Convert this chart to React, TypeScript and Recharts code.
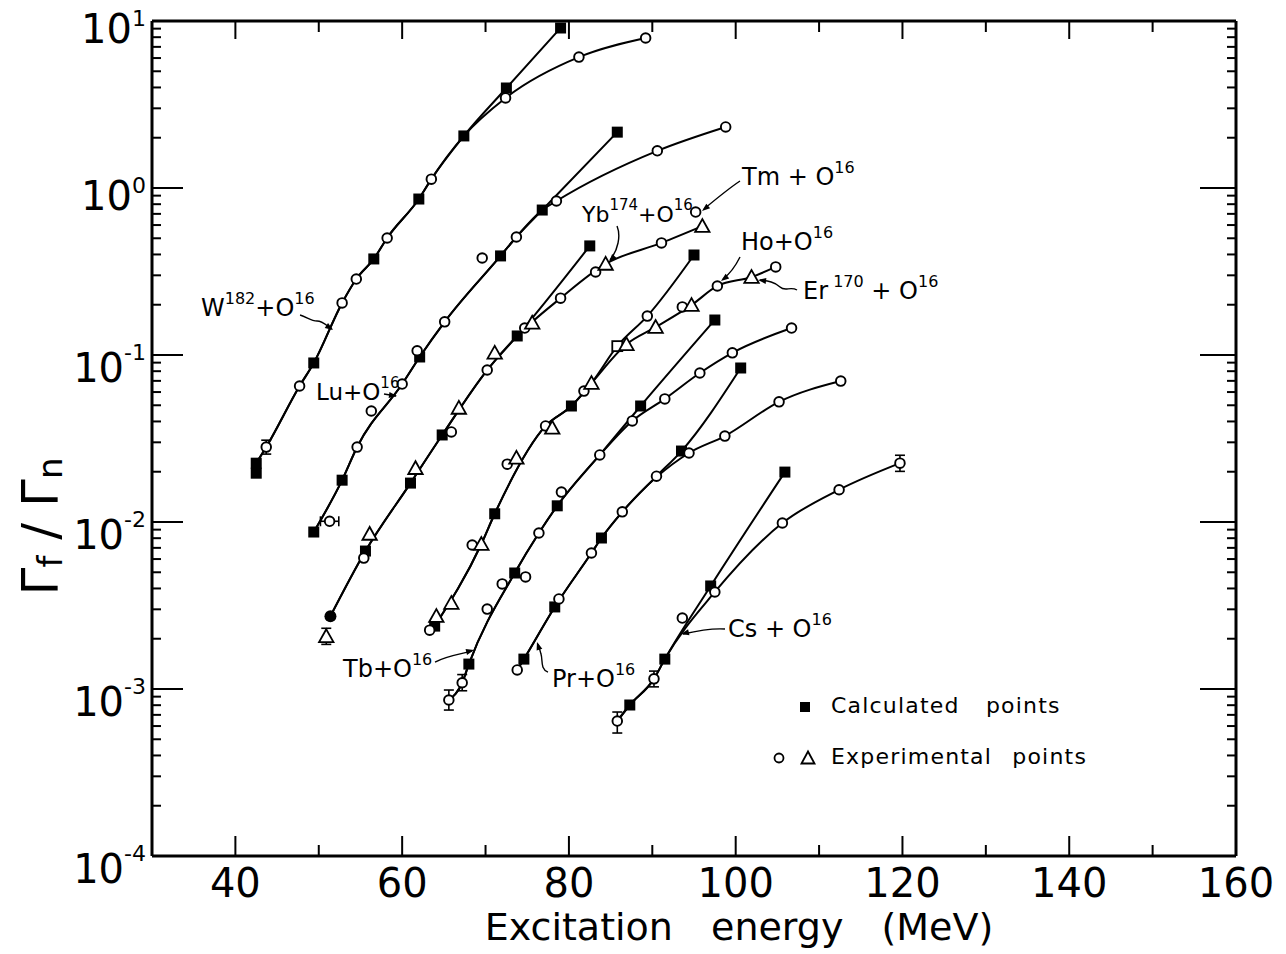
import React from "react";
import { ComposedChart, Line, Scatter, XAxis, YAxis, ErrorBar } from "recharts";

// marker: s = calculated square, o = exp circle, t = exp triangle, q = open square, f = filled circle
// role: t = shared trunk of the curve, c = calculated branch, e = experimental branch, "" = off the line
type Mark = "s" | "o" | "t" | "q" | "f";
type Role = "t" | "c" | "e" | "";
type Pt = [number, number, Mark, Role];

const w182: Pt[] = [
  [42.5, 0.0196, "s", ""],
  [42.5, 0.0225, "s", "t"],
  [43.7, 0.0281, "o", "t"],
  [47.7, 0.0652, "o", "t"],
  [49.4, 0.0896, "s", "t"],
  [52.8, 0.205, "o", "t"],
  [54.5, 0.285, "o", "t"],
  [56.6, 0.376, "s", "t"],
  [58.2, 0.502, "o", "t"],
  [62.0, 0.859, "s", "t"],
  [63.5, 1.13, "o", "t"],
  [67.4, 2.05, "s", "t"],
  [72.5, 3.97, "s", "c"],
  [79.0, 9.08, "s", "c"],
  [72.4, 3.46, "o", "e"],
  [81.2, 6.08, "o", "e"],
  [89.2, 7.91, "o", "e"],
];

const lu: Pt[] = [
  [49.4, 0.00871, "s", "t"],
  [51.3, 0.0101, "o", ""],
  [52.8, 0.0178, "s", "t"],
  [54.6, 0.0281, "o", "t"],
  [56.3, 0.0462, "o", ""],
  [60.0, 0.067, "o", "t"],
  [61.8, 0.106, "o", ""],
  [62.1, 0.0973, "s", "t"],
  [65.1, 0.158, "o", "t"],
  [69.6, 0.381, "o", ""],
  [71.8, 0.392, "s", "t"],
  [73.7, 0.509, "o", "t"],
  [76.8, 0.738, "s", "t"],
  [78.5, 0.836, "o", "e"],
  [85.8, 2.16, "s", "c"],
  [90.6, 1.67, "o", "e"],
  [98.8, 2.32, "o", "e"],
];

const ybTm: Pt[] = [
  [51.4, 0.00273, "f", "t"],
  [50.9, 0.00207, "t", ""],
  [55.4, 0.00608, "o", ""],
  [55.6, 0.0067, "s", "t"],
  [56.1, 0.00848, "t", ""],
  [61.0, 0.0171, "s", "t"],
  [61.6, 0.021, "t", ""],
  [64.8, 0.0332, "s", "t"],
  [65.9, 0.0346, "o", ""],
  [66.8, 0.0482, "t", ""],
  [70.2, 0.0813, "o", "t"],
  [71.1, 0.103, "t", ""],
  [73.8, 0.13, "s", "t"],
  [74.7, 0.145, "o", ""],
  [75.6, 0.156, "t", ""],
  [79.0, 0.219, "o", "e"],
  [82.5, 0.45, "s", "c"],
  [83.2, 0.314, "o", ""],
  [84.4, 0.351, "t", "e"],
  [91.1, 0.469, "o", "e"],
  [95.2, 0.718, "o", ""],
  [96.0, 0.591, "t", "e"],
];

const hoEr: Pt[] = [
  [63.3, 0.00225, "o", ""],
  [63.9, 0.00238, "s", "t"],
  [64.1, 0.00273, "t", ""],
  [65.9, 0.00327, "t", ""],
  [68.4, 0.00728, "o", ""],
  [69.5, 0.00738, "t", "t"],
  [71.1, 0.0112, "s", "t"],
  [72.6, 0.0222, "o", ""],
  [73.7, 0.0242, "t", ""],
  [77.2, 0.0376, "o", "t"],
  [78.0, 0.0366, "t", ""],
  [80.3, 0.0495, "s", "t"],
  [81.8, 0.0608, "o", ""],
  [82.7, 0.0679, "t", "t"],
  [85.8, 0.113, "q", "c"],
  [86.9, 0.116, "t", "e"],
  [89.4, 0.171, "o", "c"],
  [90.4, 0.147, "t", "e"],
  [93.6, 0.194, "o", ""],
  [94.7, 0.199, "t", "e"],
  [95.0, 0.397, "s", "c"],
  [97.8, 0.259, "o", "e"],
  [101.9, 0.293, "t", "e"],
  [104.8, 0.337, "o", "e"],
];

const tb: Pt[] = [
  [65.6, 0.000859, "o", "t"],
  [67.2, 0.00109, "o", "t"],
  [68.0, 0.00141, "s", "t"],
  [70.2, 0.00301, "o", ""],
  [72.0, 0.00426, "o", ""],
  [73.5, 0.00495, "s", "t"],
  [74.8, 0.00469, "o", ""],
  [76.4, 0.00859, "o", "t"],
  [78.6, 0.0125, "s", "t"],
  [79.1, 0.0151, "o", ""],
  [83.7, 0.0252, "o", "t"],
  [87.6, 0.0403, "o", "e"],
  [88.6, 0.0495, "s", "c"],
  [91.5, 0.0546, "o", "e"],
  [95.7, 0.078, "o", "e"],
  [97.5, 0.162, "s", "c"],
  [99.6, 0.103, "o", "e"],
  [106.7, 0.145, "o", "e"],
];

const pr: Pt[] = [
  [73.8, 0.0013, "o", "t"],
  [74.6, 0.00151, "s", "t"],
  [78.3, 0.0031, "s", "t"],
  [78.8, 0.00346, "o", ""],
  [82.7, 0.00652, "o", "t"],
  [83.9, 0.00802, "s", "t"],
  [86.4, 0.0115, "o", "t"],
  [90.5, 0.0188, "o", "c"],
  [93.5, 0.0266, "s", "c"],
  [94.4, 0.0259, "o", "e"],
  [98.7, 0.0327, "o", "e"],
  [100.6, 0.0836, "s", "c"],
  [105.2, 0.0524, "o", "e"],
  [112.6, 0.0698, "o", "e"],
];

const cs: Pt[] = [
  [85.8, 0.000643, "o", "t"],
  [87.3, 0.000802, "s", "t"],
  [90.2, 0.00115, "o", "t"],
  [91.5, 0.00151, "s", "t"],
  [93.6, 0.00266, "o", ""],
  [97.0, 0.00414, "s", "c"],
  [97.5, 0.00381, "o", "e"],
  [105.9, 0.0199, "s", "c"],
  [105.6, 0.00986, "o", "e"],
  [112.4, 0.0156, "o", "e"],
  [119.7, 0.0225, "o", "e"],
];

// [x, y, lower error, upper error]
const yErrors = [
  [43.7, 0.0281, 0.0026, 0.0028],
  [50.9, 0.00207, 0.00022, 0.00024],
  [65.6, 0.000859, 0.000111, 0.000127],
  [67.2, 0.00109, 0.000114, 0.00013],
  [85.8, 0.000643, 0.000098, 0.000085],
  [90.2, 0.00115, 0.00012, 0.00013],
  [119.7, 0.0225, 0.0024, 0.0026],
];
const xErrors = [[51.3, 0.0101, 1.1, 1.1]];

// label id, arrow tip x, arrow tip y
const notes: [string, number, number][] = [
  ["W", 51.71, 0.1412],
  ["Lu", 59.38, 0.0568],
  ["Yb", 84.81, 0.3604],
  ["Tm", 95.96, 0.728],
  ["Ho", 98.24, 0.2774],
  ["Er", 102.68, 0.2812],
  ["Tb", 68.62, 0.00171],
  ["Pr", 76.17, 0.00191],
  ["Cs", 93.44, 0.002134],
];
const noteText: Record<string, string[]> = {
  W: ["W", "182", "+O", "16"],
  Lu: ["Lu+O", "16"],
  Yb: ["Yb", "174", "+O", "16"],
  Tm: ["Tm + O", "16"],
  Ho: ["Ho+O", "16"],
  Er: ["Er", " 170", " + O", "16"],
  Tb: ["Tb+O", "16"],
  Pr: ["Pr+O", "16"],
  Cs: ["Cs + O", "16"],
};

const xTicks = [40, 50, 60, 70, 80, 90, 100, 110, 120, 130, 140, 150, 160];
const yDecades = [0.0001, 0.001, 0.01, 0.1, 1, 10];
const yMinor = [2, 3, 4, 5, 6, 7, 8, 9];
const yTicks = [
  ...yDecades,
  ...yDecades.slice(0, 5).flatMap((d) => yMinor.map((m) => d * m)),
].sort((a, b) => a - b);

const FONT = "'DejaVu Sans', sans-serif";

const noteLayout: Record<string, { dx: number; dy: number; lead: string; ang: number; fs: number }> = {
  W: { dx: -132, dy: -14, lead: "M-33,-15 C-26,-13 -22,-9 -16,-9 C-10,-9 -6,-4 -1,-1", ang: 34, fs: 24 },
  Lu: { dx: -81, dy: 4, lead: "M-13,-2 L-1,0", ang: 8, fs: 23 },
  Yb: { dx: -27, dy: -40, lead: "M8,-36 C12,-26 9,-12 1,-2", ang: 132, fs: 22 },
  Tm: { dx: 40, dy: -26, lead: "M38,-30 C26,-22 14,-12 2,-2", ang: 141, fs: 24 },
  Ho: { dx: 20, dy: -31, lead: "M19,-24 C15,-16 10,-8 2,-2", ang: 143, fs: 24 },
  Er: { dx: 45, dy: 19, lead: "M39,10 C32,6 27,12 22,7 C17,2 10,1 2,0", ang: 187, fs: 24 },
  Tb: { dx: -131, dy: 27, lead: "M-39,12 C-28,6 -14,4 -2,1", ang: -14, fs: 24 },
  Pr: { dx: 15, dy: 45, lead: "M11,30 C3,27 6,18 4,12 C3,8 2,5 1,2", ang: -108, fs: 24 },
  Cs: { dx: 47, dy: 3, lead: "M44,-5 C30,-6 15,-3 2,0", ang: 167, fs: 24 },
};

const curves = [w182, lu, ybTm, hoEr, tb, pr, cs];
const byX = (a: Pt, b: Pt) => a[0] - b[0];
const toXY = (p: Pt) => ({ x: p[0], y: p[1] });
const lineOf = (c: Pt[], branch: Role) =>
  c.filter((p) => p[3] === "t" || p[3] === branch).sort(byX).map(toXY);
const marks = (m: Mark) => curves.flat().filter((p) => p[2] === m).map(toXY);

const isMajor = (v: number) => Math.abs(Math.log10(v) - Math.round(Math.log10(v))) < 1e-6;

const BottomTick = (props: any) => {
  const { x, y, payload } = props;
  const major = payload.value % 20 === 0;
  return (
    <g>
      <line x1={x} x2={x} y1={y} y2={y - (major ? 20 : 11)} stroke="#000" strokeWidth={2} />
      {major && (
        <text x={x} y={y + 41} textAnchor="middle" fontFamily={FONT} fontSize={40} fill="#000">
          {payload.value}
        </text>
      )}
    </g>
  );
};

const TopTick = (props: any) => {
  const { x, y, payload } = props;
  const major = payload.value % 20 === 0;
  return <line x1={x} x2={x} y1={y} y2={y + (major ? 18 : 11)} stroke="#000" strokeWidth={2} />;
};

const LeftTick = (props: any) => {
  const { x, y, payload } = props;
  const v = payload.value;
  const major = isMajor(v);
  const e = Math.round(Math.log10(v));
  const base = e >= 0 ? 22 : 27;
  return (
    <g>
      <line x1={x} x2={x + (major ? 31 : 9)} y1={y} y2={y} stroke="#000" strokeWidth={2} />
      {major && (
        <text x={x - 6} y={y + base} textAnchor="end" fontFamily={FONT} fill="#000">
          <tspan fontSize={40}>10</tspan>
          <tspan fontSize={22} dy={5 - base}>{String(e)}</tspan>
        </text>
      )}
    </g>
  );
};

const RightTick = (props: any) => {
  const { x, y, payload } = props;
  const major = isMajor(payload.value);
  return <line x1={x} x2={x - (major ? 36 : 9)} y1={y} y2={y} stroke="#000" strokeWidth={2} />;
};

const XLabel = (props: any) => {
  const vb = props.viewBox;
  return (
    <text
      x={vb.x + vb.width / 2 + 45}
      y={vb.y + 84}
      textAnchor="middle"
      fontFamily={FONT}
      fontSize={38}
      fill="#000"
      style={{ wordSpacing: 26 }}
    >
      Excitation energy (MeV)
    </text>
  );
};

const YLabel = (props: any) => {
  const vb = props.viewBox;
  const x = vb.x + 5;
  const y = vb.y + vb.height / 2 + 88;
  return (
    <text x={x} y={y} transform={`rotate(-90 ${x} ${y})`} textAnchor="middle" fontFamily={FONT} fill="#000">
      <tspan fontSize={50}>Γ</tspan>
      <tspan fontSize={34} dy={5}>f</tspan>
      <tspan fontSize={50} dy={-5}> / Γ</tspan>
      <tspan fontSize={34} dy={5}>n</tspan>
    </text>
  );
};

const Square = (p: any) => <rect x={p.cx - 5.5} y={p.cy - 5.5} width={11} height={11} fill="#000" />;
const OpenSquare = (p: any) => (
  <rect x={p.cx - 5} y={p.cy - 5} width={10} height={10} fill="#fff" stroke="#000" strokeWidth={1.8} />
);
const Ring = (p: any) => <circle cx={p.cx} cy={p.cy} r={4.8} fill="#fff" stroke="#000" strokeWidth={1.9} />;
const Dot = (p: any) => <circle cx={p.cx} cy={p.cy} r={6} fill="#000" />;
const Tri = (p: any) => (
  <polygon
    points={`${p.cx},${p.cy - 7} ${p.cx - 7.2},${p.cy + 5.8} ${p.cx + 7.2},${p.cy + 5.8}`}
    fill="#fff"
    stroke="#000"
    strokeWidth={1.8}
  />
);
const Empty = () => <g />;

const Note = (props: any) => {
  const { cx, cy, payload } = props;
  const L = noteLayout[payload.id];
  const parts = noteText[payload.id];
  const sup = Math.round(L.fs * 0.67);
  return (
    <g transform={`translate(${cx},${cy})`}>
      <path d={L.lead} fill="none" stroke="#000" strokeWidth={1.4} />
      <path d="M0,0 L-8,-3 L-8,3 Z" transform={`rotate(${L.ang})`} fill="#000" />
      <text x={L.dx} y={L.dy} fontFamily={FONT} fill="#000" style={{ whiteSpace: "pre" }}>
        {parts.map((t, i) =>
          i % 2 === 0 ? (
            <tspan key={i} fontSize={L.fs} dy={i === 0 ? 0 : 12}>
              {t}
            </tspan>
          ) : (
            <tspan key={i} fontSize={sup} dy={-12}>
              {t}
            </tspan>
          )
        )}
      </text>
    </g>
  );
};

export default function App() {
  const yErrData = yErrors.map(([x, y, lo, hi]) => ({ x, y, err: [lo, hi] }));
  const xErrData = xErrors.map(([x, y, lo, hi]) => ({ x, y, err: [lo, hi] }));
  const noteData = notes.map(([id, x, y]) => ({ id, x, y }));

  return (
    <div style={{ position: "absolute", left: 0, top: 0, width: 1286, height: 954, background: "#fff" }}>
      <ComposedChart width={1286} height={954} margin={{ top: 11, right: 40, bottom: 38, left: 52 }}>
        <XAxis
          type="number"
          dataKey="x"
          domain={[30, 160]}
          ticks={xTicks}
          interval={0}
          allowDataOverflow
          height={60}
          tickLine={false}
          tickSize={0}
          tickMargin={0}
          axisLine={{ stroke: "#000", strokeWidth: 3 }}
          tick={<BottomTick />}
          label={XLabel}
        />
        <XAxis
          xAxisId="top"
          orientation="top"
          type="number"
          dataKey="x"
          domain={[30, 160]}
          ticks={xTicks}
          interval={0}
          allowDataOverflow
          height={10}
          tickLine={false}
          tickSize={0}
          tickMargin={0}
          axisLine={{ stroke: "#000", strokeWidth: 3 }}
          tick={<TopTick />}
        />
        <YAxis
          type="number"
          dataKey="y"
          scale="log"
          domain={[0.0001, 10]}
          ticks={yTicks}
          interval={0}
          allowDataOverflow
          width={100}
          tickLine={false}
          tickSize={0}
          tickMargin={0}
          axisLine={{ stroke: "#000", strokeWidth: 3 }}
          tick={<LeftTick />}
          label={YLabel}
        />
        <YAxis
          yAxisId="right"
          orientation="right"
          type="number"
          dataKey="y"
          scale="log"
          domain={[0.0001, 10]}
          ticks={yTicks}
          interval={0}
          allowDataOverflow
          width={10}
          tickLine={false}
          tickSize={0}
          tickMargin={0}
          axisLine={{ stroke: "#000", strokeWidth: 3 }}
          tick={<RightTick />}
        />

        {curves.map((c, i) => (
          <Line
            key={`calc${i}`}
            data={lineOf(c, "c")}
            dataKey="y"
            type="monotone"
            stroke="#000"
            strokeWidth={2}
            dot={false}
            activeDot={false}
            isAnimationActive={false}
          />
        ))}
        {curves.map((c, i) => (
          <Line
            key={`exp${i}`}
            data={lineOf(c, "e")}
            dataKey="y"
            type="monotone"
            stroke="#000"
            strokeWidth={2}
            dot={false}
            activeDot={false}
            isAnimationActive={false}
          />
        ))}

        <Scatter data={yErrData} shape={Empty} isAnimationActive={false}>
          <ErrorBar dataKey="err" direction="y" width={5} stroke="#000" strokeWidth={1.6} isAnimationActive={false} />
        </Scatter>
        <Scatter data={xErrData} shape={Empty} isAnimationActive={false}>
          <ErrorBar dataKey="err" direction="x" width={5} stroke="#000" strokeWidth={1.6} isAnimationActive={false} />
        </Scatter>

        <Scatter data={marks("s")} shape={Square} isAnimationActive={false} />
        <Scatter data={marks("q")} shape={OpenSquare} isAnimationActive={false} />
        <Scatter data={marks("f")} shape={Dot} isAnimationActive={false} />
        <Scatter data={marks("o")} shape={Ring} isAnimationActive={false} />
        <Scatter data={marks("t")} shape={Tri} isAnimationActive={false} />
        <Scatter data={noteData} shape={Note} isAnimationActive={false} />
      </ComposedChart>

      <svg
        width={1286}
        height={954}
        style={{ position: "absolute", left: 0, top: 0, pointerEvents: "none" }}
      >
        <rect x={800} y={702} width={10} height={10} fill="#000" />
        <text x={831} y={713} fontFamily={FONT} fontSize={22} letterSpacing={1.2} style={{ wordSpacing: 18 }}>
          Calculated points
        </text>
        <circle cx={779} cy={758} r={4.5} fill="#fff" stroke="#000" strokeWidth={1.8} />
        <polygon points="808,751.5 801.5,763.5 814.5,763.5" fill="#fff" stroke="#000" strokeWidth={1.8} />
        <text x={831} y={764} fontFamily={FONT} fontSize={22} letterSpacing={1.2} style={{ wordSpacing: 12 }}>
          Experimental points
        </text>
      </svg>
    </div>
  );
}
